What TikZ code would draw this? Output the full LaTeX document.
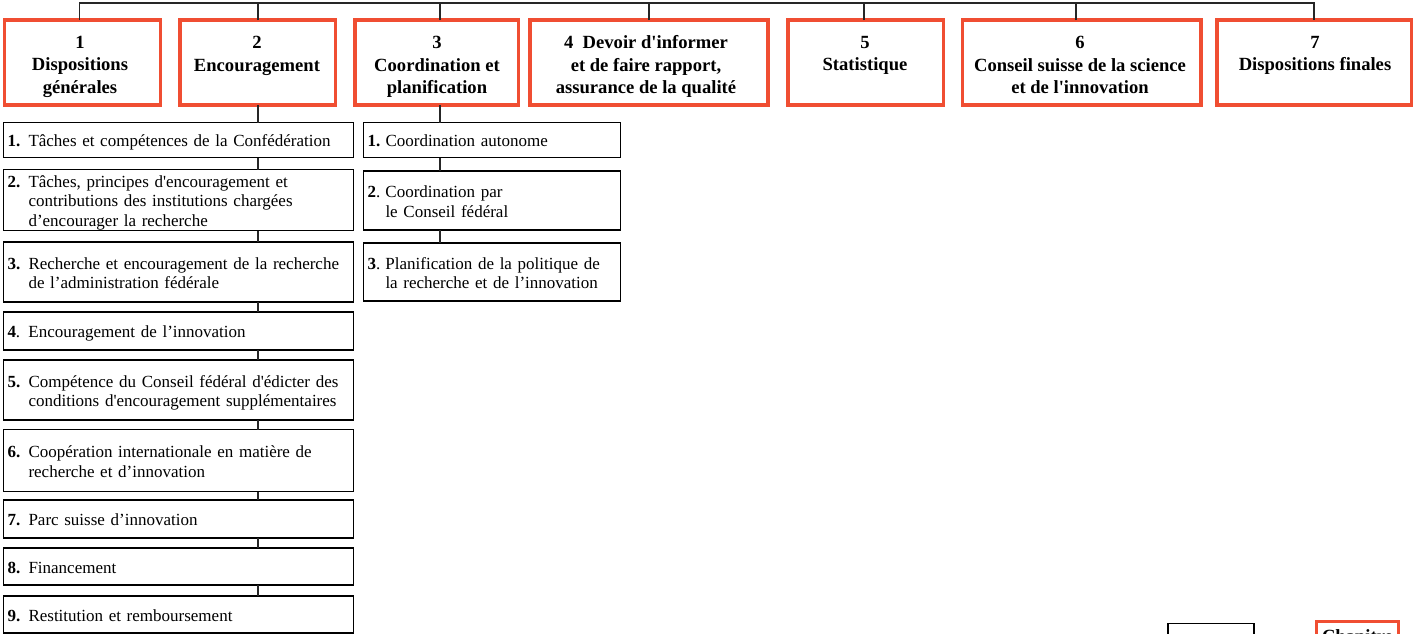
\documentclass[tikz,border=0pt]{standalone}
\usepackage{fontspec}
\setmainfont{Liberation Serif}
\definecolor{redc}{RGB}{240,78,50}
\newcommand{\sq}{\textquotesingle}
\newcommand{\itemA}[2]{\raisebox{-3pt}[\height][\depth]{\makebox[21pt][l]{#1}\begin{tabular}[t]{@{}l@{}}#2\end{tabular}}}
\newcommand{\itemB}[2]{\raisebox{-3pt}[\height][\depth]{\makebox[18pt][l]{#1}\begin{tabular}[t]{@{}l@{}}#2\end{tabular}}}
\tikzset{
  chap/.style={draw=redc, line width=3.5pt, anchor=north west, inner sep=0pt, outer sep=0pt, minimum height=85pt},
  ctitle/.style={anchor=north, align=center, inner sep=0pt, font=\fontsize{18.6}{22.5}\selectfont\bfseries},
  sub/.style={draw=black, line width=1.5pt, anchor=north west, outer sep=0pt, inner xsep=4pt, inner ysep=0pt, align=left, font=\fontsize{17}{19.8}\selectfont},
  colA/.style={sub, minimum width=350pt, text width=342pt},
  colB/.style={sub, minimum width=257pt, text width=249pt},
  conn/.style={line width=1.6pt, black!85},
}
\begin{document}
\begin{tikzpicture}[x=1pt, y=-1pt]
\clip (0,0) rectangle (1415,633);
\fill[white] (0,0) rectangle (1415,633);
% chapter boxes
\node[chap, minimum width=156pt]   (c1) at (4.5,20) {};
\node[chap, minimum width=155.5pt] (c2) at (180,20) {};
\node[chap, minimum width=163.5pt] (c3) at (355,20) {};
\node[chap, minimum width=238pt]   (c4) at (530,20) {};
\node[chap, minimum width=155.5pt] (c5) at (788,20) {};
\node[chap, minimum width=238.5pt] (c6) at (962.5,20) {};
\node[chap, minimum width=194.5pt] (c7) at (1217,20) {};
\node[ctitle] (t1) at (80,36) {1\\Dispositions\\générales};
\node[ctitle] (t2) at (257,36) {2\\Encouragement};
\node[ctitle] (t3) at (437,36) {3\\Coordination et\\planification};
\node[ctitle] (t4) at (646,35.5) {4\ \ Devoir d\sq informer\\et de faire rapport,\\assurance de la qualité};
\node[ctitle] (t5) at (865,36) {5\\Statistique};
\node[ctitle] (t6) at (1080,36) {6\\Conseil suisse de la science\\et de l\sq innovation};
\node[ctitle] (t7) at (1315,36) {7\\Dispositions finales};
% drop points
\coordinate (bus) at (0,3);
\coordinate (d1) at ([xshift=-3pt]c1.north);
\coordinate (d3) at ([xshift=3pt]c3.north);
\coordinate (d5) at ([xshift=-2pt]c5.north);
\coordinate (d6) at ([xshift=-6pt]c6.north);
\coordinate (c3d) at ([xshift=3pt]c3.south);
% bus
\draw[conn] (d1) -- (d1 |- bus) -- (c7.north |- bus) -- (c7.north);
\draw[conn] (c2.north) -- (c2.north |- bus);
\draw[conn] (d3) -- (d3 |- bus);
\draw[conn] (c4.north) -- (c4.north |- bus);
\draw[conn] (d5) -- (d5 |- bus);
\draw[conn] (d6) -- (d6 |- bus);
% column 1
\node[colA, minimum height=35pt] (a1) at (3.5,122.5) {\itemA{\textbf{1.}}{Tâches et compétences de la Confédération}};
\node[colA, minimum height=61pt] (a2) at (3.5,169.5) {\itemA{\textbf{2.}}{Tâches, principes d\sq encouragement et\\contributions des institutions chargées\\d’encourager la recherche}};
\node[colA, minimum height=60pt] (a3) at (3.5,242) {\itemA{\textbf{3.}}{Recherche et encouragement de la recherche\\de l’administration fédérale}};
\node[colA, minimum height=38pt] (a4) at (3.5,312) {\itemA{\textbf{4}.}{Encouragement de l’innovation}};
\node[colA, minimum height=60pt] (a5) at (3.5,360) {\itemA{\textbf{5.}}{Compétence du Conseil fédéral d\sq édicter des\\conditions d\sq encouragement supplémentaires}};
\node[colA, minimum height=62pt] (a6) at (3.5,429.5) {\itemA{\textbf{6.}}{Coopération internationale en matière de\\recherche et d’innovation}};
\node[colA, minimum height=38pt] (a7) at (3.5,500) {\itemA{\textbf{7.}}{Parc suisse d’innovation}};
\node[colA, minimum height=37pt] (a8) at (3.5,548) {\itemA{\textbf{8.}}{Financement}};
\node[colA, minimum height=37pt] (a9) at (3.5,596) {\itemA{\textbf{9.}}{Restitution et remboursement}};
\draw[conn] (c2.south) -- (c2.south |- a1.north);
\foreach \i [evaluate=\i as \j using int(\i+1)] in {1,...,8}
  \draw[conn] (a\i.south -| c2.south) -- (a\j.north -| c2.south);
% column 2
\node[colB, minimum height=35pt] (b1) at (363.5,122.5) {\itemB{\textbf{1.}}{Coordination autonome}};
\node[colB, minimum height=59pt] (b2) at (363.5,171) {\itemB{\textbf{2}.}{Coordination par\\le Conseil fédéral}};
\node[colB, minimum height=58pt] (b3) at (363.5,243) {\itemB{\textbf{3}.}{Planification de la politique de\\la recherche et de l’innovation}};
\draw[conn] (c3d) -- (c3d |- b1.north);
\draw[conn] (b1.south -| c3d) -- (b2.north -| c3d);
\draw[conn] (b2.south -| c3d) -- (b3.north -| c3d);
% partial legend boxes at bottom right
\node[sub, minimum width=86pt, minimum height=60pt] (l1) at (1168,623.5) {};
\node[chap, minimum width=82pt, minimum height=60pt] (l2) at (1316.5,621.5) {};
\node[ctitle] (l2t) at ([yshift=-8pt]l2.north) {Chapitre};
\end{tikzpicture}
\end{document}
